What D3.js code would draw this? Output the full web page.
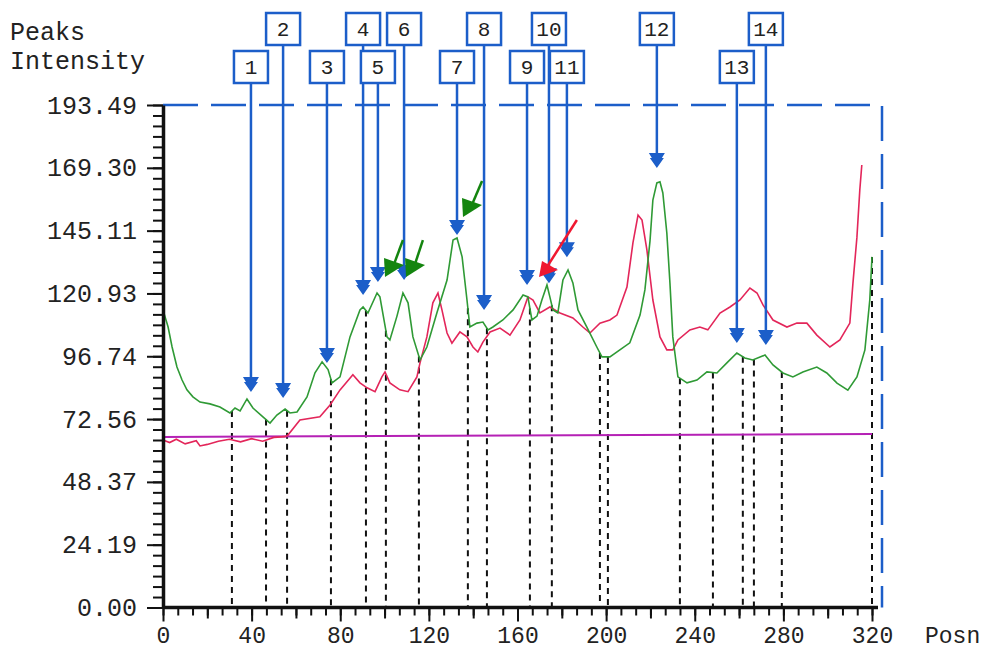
<!DOCTYPE html>
<html>
<head>
<meta charset="utf-8">
<script src="https://cdn.jsdelivr.net/npm/d3@7"></script>
<style>
  body { margin: 0; background: #fff; }
  text { font-family: "Liberation Mono", "DejaVu Sans Mono", monospace; fill: #222; }
</style>
</head>
<body>
<div id="chart"></div>
<script>
// axis ticks
const yTicks = [0, 24.19, 48.37, 72.56, 96.74, 120.93, 145.11, 169.30, 193.49];
const xTicks = [0, 40, 80, 120, 160, 200, 240, 280, 320];

// green trace (posn, intensity)
const greenSeries = [
  [0, 114.6], [2.3, 108.0], [4.1, 100.3], [6.3, 92.6], [8.6, 87.6], [10.8, 83.8], [13.5, 81.1],
  [16.7, 79.1], [21.2, 78.4], [25.7, 77.2], [30.2, 74.9], [32.5, 76.8], [34.8, 75.7], [37.9, 80.3],
  [40.6, 76.8], [45.1, 73.4], [48.3, 71.0], [51.4, 74.1], [55.1, 76.4], [57.3, 74.9], [60.5, 75.3],
  [65.0, 81.1], [68.6, 90.4], [71.8, 94.6], [74.5, 91.6], [76.3, 86.5], [79.9, 88.8], [84.4, 104.2],
  [88.9, 114.6], [90.3, 115.7], [92.5, 113.4], [96.6, 121.1], [97.9, 119.6], [101.1, 104.2],
  [102.4, 103.0], [105.6, 112.2], [108.3, 121.1], [110.6, 117.3], [112.8, 104.2], [116.0, 95.3],
  [119.1, 100.3], [123.6, 113.4], [128.2, 126.1], [130.9, 141.5], [132.7, 142.3], [135.0, 135.0],
  [137.2, 118.4], [138.5, 108.0], [141.7, 109.5], [144.4, 109.9], [146.7, 106.9], [148.9, 108.0],
  [153.4, 110.7], [158.0, 114.6], [162.5, 120.3], [164.7, 119.6], [166.5, 110.7], [168.8, 112.2],
  [171.0, 118.4], [173.3, 124.2], [174.6, 119.6], [176.0, 114.6], [178.2, 113.4], [180.5, 126.1],
  [182.8, 130.0], [185.0, 125.0], [187.3, 114.6], [191.3, 108.0], [195.8, 100.3], [198.1, 96.5],
  [201.7, 96.5], [206.2, 99.2], [210.7, 101.9], [215.3, 112.6], [217.5, 122.3], [219.8, 141.1],
  [221.1, 156.9], [222.9, 163.5], [224.3, 163.9], [225.6, 159.6], [227.4, 144.2], [228.8, 125.0],
  [230.1, 104.2], [232.4, 88.8], [236.5, 86.5], [241.0, 87.6], [245.5, 90.7], [250.0, 90.3],
  [254.5, 94.2], [259.0, 98.0], [262.6, 96.1], [266.2, 95.3], [271.7, 97.2], [275.3, 93.4],
  [279.8, 90.3], [284.3, 88.8], [288.8, 90.7], [295.1, 92.6], [299.6, 90.3], [304.2, 86.4],
  [309.1, 83.7], [313.2, 88.8], [316.8, 99.2], [319.0, 118.4], [320, 135.0]
];

// red trace
const redSeries = [
  [0, 64.5], [3, 63.5], [6, 64.8], [10, 63.0], [15, 64.2], [16.7, 62.2], [20, 62.8], [25, 64.0],
  [30, 64.8], [35, 63.8], [40, 65.0], [45, 64.0], [50, 65.5], [55, 65.8], [56.4, 66.4],
  [61.8, 72.2], [70.8, 73.4], [75.4, 78.0], [79.9, 83.8], [85.7, 89.6], [88.9, 86.5], [92.1, 84.6],
  [95.7, 83.1], [98.8, 88.8], [100.2, 90.7], [102.4, 86.5], [106.9, 83.8], [110.6, 83.1],
  [114.6, 88.8], [116.0, 94.2], [119.1, 104.2], [121.8, 117.3], [124.1, 121.1], [125.9, 114.6],
  [128.2, 105.7], [130.4, 101.8], [134.0, 106.1], [137.2, 104.2], [139.9, 100.3], [142.1, 98.4],
  [144.4, 102.2], [147.6, 106.1], [152.1, 107.6], [156.6, 104.9], [161.1, 110.7], [164.7, 119.6],
  [167.0, 118.4], [170.1, 113.4], [174.6, 115.7], [179.2, 113.4], [185.0, 111.5], [189.5, 108.0],
  [192.7, 105.7], [197.2, 109.5], [201.7, 110.7], [204.9, 112.6], [209.4, 123.4], [212.1, 140.4],
  [214.4, 151.1], [216.2, 149.2], [218.4, 137.7], [221.1, 118.4], [224.3, 104.2], [227.4, 99.2],
  [230.1, 99.2], [232.4, 103.0], [237.8, 106.9], [242.3, 108.0], [245.9, 106.9], [251.4, 113.4],
  [255.9, 115.7], [260.4, 118.4], [264.9, 123.0], [268.1, 121.1], [270.8, 116.5], [275.3, 110.7],
  [281.6, 108.0], [286.1, 109.5], [290.6, 109.5], [295.1, 104.9], [301.0, 100.3], [305.5, 103.0],
  [310.0, 109.5], [311.4, 124.9], [313.2, 142.6], [314.5, 160.8], [315.4, 170.4]
];

// magenta baseline
const baseline = [[0, 65.7], [320, 66.8]];

// peak markers
const peakIds = [1, 2, 3, 4, 5, 6, 7, 8, 9, 10, 11, 12, 13, 14];
const peakPos = [39.7, 54.2, 74.0, 90.3, 97.0, 108.8, 132.7, 144.9, 164.3, 174.2, 182.3, 222.9, 259.0, 272.1];
const peakTip = [83.0, 80.7, 94.1, 120.3, 125.3, 126.1, 143.4, 114.6, 124.2, 124.9, 134.9, 169.2, 101.8, 101.1];

// peak boundaries (dashed)
const bounds = [31.1, 46.5, 56.0, 75.8, 91.6, 100.6, 115.5, 137.6, 146.2, 165.6, 175.5, 197.2, 200.8,
  233.3, 248.2, 261.7, 266.7, 279.3, 320.0];

// annotation arrows: [tailX, tailY, tipX, tipY]
const greenArrows = [[108.3, 141.5, 100.2, 127.3], [117.3, 141.5, 109.7, 127.3], [144.0, 164.2, 135.4, 150.4]];
const redArrows = [[186.8, 149.2, 169.7, 127.3]];

const W = 988, H = 651;
const margin = { top: 105, left: 163, right: 116, bottom: 43.5 };
const BLUE = "#1c5ec9", GREEN = "#2f9a35", RED = "#e3265a", MAGENTA = "#b521b5";
const FONT = "'Liberation Mono', 'DejaVu Sans Mono', monospace";

const x = d3.scaleLinear().domain([0, 320]).range([margin.left, W - margin.right]);
const y = d3.scaleLinear().domain([0, 193.49]).range([H - margin.bottom, margin.top]);

const svg = d3.select("#chart").append("svg")
  .attr("width", W).attr("height", H);

// axis title
svg.append("text").attr("x", 10).attr("y", 40).attr("font-size", 25).text("Peaks");
svg.append("text").attr("x", 10).attr("y", 69).attr("font-size", 25).text("Intensity");

// dashed blue frame (top + right)
const frameRight = x(320) + 10;
svg.append("path")
  .attr("d", `M${x(0)},${y(193.49)}H${frameRight}V${y(0)}`)
  .attr("fill", "none").attr("stroke", BLUE).attr("stroke-width", 2.5)
  .attr("stroke-dasharray", "35,13");

// dashed peak boundaries, top sits on the green trace
const bis = d3.bisector(d => d[0]).left;
function greenAt(v) {
  const i = Math.max(1, Math.min(greenSeries.length - 1, bis(greenSeries, v)));
  const a = greenSeries[i - 1], b = greenSeries[i];
  return a[1] + (b[1] - a[1]) * (v - a[0]) / (b[0] - a[0]);
}
svg.append("g").selectAll("line").data(bounds).enter().append("line")
  .attr("x1", d => x(d)).attr("x2", d => x(d))
  .attr("y1", d => y(greenAt(d))).attr("y2", y(0))
  .attr("stroke", "#111").attr("stroke-width", 2).attr("stroke-dasharray", "6,5");

const line = d3.line().x(d => x(d[0])).y(d => y(d[1]));

svg.append("path").datum(baseline).attr("d", line)
  .attr("fill", "none").attr("stroke", MAGENTA).attr("stroke-width", 2);
svg.append("path").datum(redSeries).attr("d", line)
  .attr("fill", "none").attr("stroke", RED).attr("stroke-width", 1.6);
svg.append("path").datum(greenSeries).attr("d", line)
  .attr("fill", "none").attr("stroke", GREEN).attr("stroke-width", 1.6);

// axes
const yAxis = svg.append("g").attr("transform", `translate(${margin.left},0)`)
  .call(d3.axisLeft(y).tickValues(d3.range(0, 49).map(i => 193.49 * i / 48))
    .tickSize(10).tickSizeOuter(0).tickFormat(""));
yAxis.selectAll("line").attr("stroke", "#111").attr("stroke-width", 2);
const yMajor = svg.append("g").attr("transform", `translate(${margin.left},0)`)
  .call(d3.axisLeft(y).tickValues(yTicks).tickFormat(d3.format(".2f"))
    .tickSize(16).tickSizeOuter(0).tickPadding(10))
  .attr("font-size", 25).attr("font-family", FONT);
yMajor.selectAll("line").attr("stroke", "#111").attr("stroke-width", 2);
yMajor.select(".domain").attr("stroke", "#111").attr("stroke-width", 3.5);
yAxis.select(".domain").remove();

const xMinor = svg.append("g").attr("transform", `translate(0,${y(0)})`)
  .call(d3.axisBottom(x).tickValues(d3.range(0, 49).map(i => 320 * i / 48))
    .tickSize(8).tickSizeOuter(0).tickFormat(""));
xMinor.selectAll("line").attr("stroke", "#111").attr("stroke-width", 2);
xMinor.select(".domain").remove();
const xMid = svg.append("g").attr("transform", `translate(0,${y(0)})`)
  .call(d3.axisBottom(x).tickValues(d3.range(20, 320, 40)).tickSize(11).tickFormat(""));
xMid.selectAll("line").attr("stroke", "#111").attr("stroke-width", 2);
xMid.select(".domain").remove();
const xMajor = svg.append("g").attr("transform", `translate(0,${y(0)})`)
  .call(d3.axisBottom(x).tickValues(xTicks).tickSize(14).tickSizeOuter(0).tickPadding(0))
  .attr("font-size", 23).attr("font-family", FONT);
xMajor.selectAll("line").attr("stroke", "#111").attr("stroke-width", 2);
xMajor.selectAll(".tick text").attr("y", 35).attr("dy", null);
xMajor.select(".domain").attr("d", `M${x(0)},0H${x(320) + 6}`)
  .attr("stroke", "#111").attr("stroke-width", 3.5);
svg.selectAll(".tick text").attr("fill", "#222");

svg.append("text").attr("x", 925).attr("y", 643).attr("font-size", 23).text("Posn");

// peak markers
const peaks = peakIds.map((id, i) => ({ id: id, pos: peakPos[i], tip: peakTip[i], top: id % 2 === 0 ? 13 : 51 }));
const bw = 34, bh = 32;
const pg = svg.append("g").selectAll("g").data(peaks).enter().append("g");
pg.append("line")
  .attr("x1", d => x(d.pos)).attr("x2", d => x(d.pos))
  .attr("y1", d => d.top + bh).attr("y2", d => y(d.tip) - 8)
  .attr("stroke", BLUE).attr("stroke-width", 2.5);
pg.append("path")
  .attr("transform", d => `translate(${x(d.pos)},${y(d.tip)})`)
  .attr("d", "M-8,-15H8L5,-10H7L0,0L-7,-10H-5Z")
  .attr("fill", BLUE);
pg.append("rect")
  .attr("x", d => x(d.pos) - bw / 2).attr("y", d => d.top)
  .attr("width", bw).attr("height", bh)
  .attr("fill", "#fff").attr("stroke", BLUE).attr("stroke-width", 2.5);
pg.append("text")
  .attr("x", d => x(d.pos)).attr("y", d => d.top + 23)
  .attr("text-anchor", "middle").attr("font-size", 21)
  .text(d => d.id);

// green / red pointer arrows
function drawArrows(list, color, head) {
  const g = svg.append("g");
  list.forEach(a => {
    const tx = x(a[2]), ty = y(a[3]);
    g.append("line")
      .attr("x1", x(a[0])).attr("y1", y(a[1]))
      .attr("x2", tx + 8).attr("y2", ty - 10)
      .attr("stroke", color).attr("stroke-width", 2.5);
    g.append("path")
      .attr("transform", `translate(${tx},${ty})`)
      .attr("d", head).attr("fill", color);
  });
}
drawArrows(greenArrows, "#14850f", "M0,0L-1,-19L19,-12Z");
drawArrows(redArrows, "#f01830", "M0,0L3,-16L19,-7Z");
</script>
</body>
</html>
